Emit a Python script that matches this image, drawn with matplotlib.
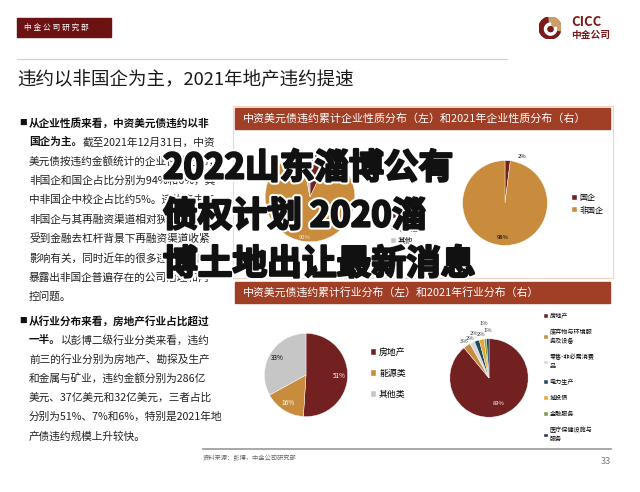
import numpy as np
import matplotlib
matplotlib.use("Agg")
import matplotlib.pyplot as plt
from matplotlib.patches import Rectangle, Wedge, Circle
import matplotlib.patheffects as pe

plt.rcParams['font.family'] = ['Noto Sans CJK SC', 'DejaVu Sans']

W, H = 640, 492

# ---- data ----
page_title = "违约以非国企为主，2021年地产违约提速"
header_top = "中资美元债违约累计企业性质分布（左）和2021年企业性质分布（右）"
header_bottom = "中资美元债违约累计行业分布（左）和2021年行业分布（右）"
overlay_lines = ["2022山东淄博公有", "债权计划 2020淄", "博土地出让最新消息"]

nature_labels_all = ["国企", "非国企", "其他"]
nature_values_all = [7, 90, 3]
nature_labels_2021 = ["国企", "非国企"]
nature_values_2021 = [2, 98]

industry_labels_all = ["房地产", "能源类", "其他类"]
industry_values_all = [51, 16, 33]
industry_labels_2021 = ["房地产", "废弃物与环境服\n务及设备", "零售-非必需消费\n品", "电力生产",
                        "城投债", "金融服务", "医疗保健设施与\n服务"]
industry_values_2021 = [89, 3, 2, 2, 2, 1, 1]

# (bold part, normal part)
para1 = [
    ("从企业性质来看，中资美元债违约以非", ""),
    ("国企为主。", "截至2021年12月31日，中资"),
    ("", "美元债按违约金额统计的企业性质分布，"),
    ("", "非国企和国企占比分别为94%和6%，其"),
    ("", "中非国企中校企占比约5%。违约集中于"),
    ("", "非国企与其再融资渠道相对狭窄，另外"),
    ("", "受到金融去杠杆背景下再融资渠道收紧"),
    ("", "影响有关，同时近年的很多违约案例也"),
    ("", "暴露出非国企普遍存在的公司治理和内"),
    ("", "控问题。"),
]
para2 = [
    ("从行业分布来看，房地产行业占比超过", ""),
    ("一半。", "以彭博二级行业分类来看，违约"),
    ("", "前三的行业分别为房地产、勘探及生产"),
    ("", "和金属与矿业，违约金额分别为286亿"),
    ("", "美元、37亿美元和32亿美元，三者占比"),
    ("", "分别为51%、7%和6%，特别是2021年地"),
    ("", "产债违约规模上升较快。"),
]

RED = "#722020"
GOLD = "#c98c3c"
GRAY = "#c6c6c6"
BAR = "#a03e26"

fig = plt.figure(figsize=(6.4, 4.92), dpi=100)
ax0 = fig.add_axes([0, 0, 1, 1])
ax0.set_xlim(0, W)
ax0.set_ylim(H, 0)
ax0.axis('off')

# header strip
ax0.add_patch(Rectangle((17, 18), 94, 19, color="#6d1212"))
ax0.text(24, 27.5, " ".join("中金公司研究部"), color="white", fontsize=5.6, va="center")
ax0.plot([17, 507], [59, 59], color="#d0d0d0", lw=0.8)
ax0.text(17, 80, page_title, fontsize=13.3, va="center", color="#1a1a1a")

# logo
lax = fig.add_axes([539 / W, 1 - 39 / H, 22 / W, 22 / H])
lax.set_xlim(-1, 1)
lax.set_ylim(-1, 1)
lax.axis('off')
lax.add_patch(Circle((0, 0), 1, color="#7a1a1a"))
lax.add_patch(Wedge((0, 0), 1, -15, 95, color="#c9a06a"))
lax.add_patch(Wedge((0.05, -0.1), 0.55, 90, 380, width=0.2, color="white"))
lax.add_patch(Circle((0.05, -0.1), 0.22, color="#7a1a1a"))
ax0.text(571, 22, "CICC", fontsize=9.5, fontweight="bold", color="#7a1a1a", va="center")
ax0.text(571, 35, "中金公司", fontsize=7, fontweight="bold", color="#7a1a1a", va="center")

# body text
def draw_para(lines, y0, step):
    ax0.text(19, y0, "■", fontsize=5.5, va="center", color="#111")
    for i, (b, n) in enumerate(lines):
        y = y0 + i * step
        t = ax0.text(29, y, b, fontsize=7.7, fontweight="bold", va="center", color="#111")
        if n:
            if b:
                ax0.annotate(n, xy=(1, 0.5), xycoords=t, va="center", fontsize=7.7, color="#222")
            else:
                ax0.text(29, y, n, fontsize=7.7, va="center", color="#222")

draw_para(para1, 123, 19.3)
draw_para(para2, 321, 19.2)

# chart headers
ax0.add_patch(Rectangle((233, 106), 380, 172, fill=False, ec="#f3d3c6", lw=0.8))
ax0.add_patch(Rectangle((235, 108), 375, 21, color=BAR))
ax0.text(243, 118.5, header_top, color="white", fontsize=7.9, va="center")
ax0.add_patch(Rectangle((235, 282), 375, 21, color=BAR))
ax0.text(243, 292.5, header_bottom, color="white", fontsize=7.85, va="center")

# footer
ax0.plot([203, 611], [449, 449], color="#999999", lw=1.2)
ax0.text(203, 458, "资料来源：彭博，中金公司研究部", fontsize=4.5, color="#666", va="center")
ax0.text(611, 461, "33", fontsize=6.5, color="#777", va="center", ha="right")


def pie_ax(cx, cy, r):
    a = fig.add_axes([(cx - r) / W, 1 - (cy + r) / H, 2 * r / W, 2 * r / H])
    return a


def legend(a, wedges, labels, x, y, fs, spacing):
    a.legend(wedges, labels, loc="upper left", bbox_to_anchor=(x / W, 1 - y / H),
             bbox_transform=fig.transFigure, frameon=False, fontsize=fs,
             handlelength=0.6, handleheight=0.6, handletextpad=0.3,
             labelspacing=spacing, borderpad=0, borderaxespad=0)


# top-left pie
a1 = pie_ax(310, 197, 56)
w1, t1, p1 = a1.pie(nature_values_all, colors=[RED, GOLD, GRAY], startangle=90,
                    counterclock=False, radius=1, autopct="%d%%", pctdistance=0.8,
                    textprops={"fontsize": 4.2},
                    wedgeprops={"edgecolor": "white", "linewidth": 0.3})
p1[0].set_color("white")
p1[1].set_color("#f4e4cc")
p1[1].set_position((p1[1].get_position()[0] * 1.15, p1[1].get_position()[1] * 1.15))
legend(a1, w1, nature_labels_all, 391, 212, 5.5, 0.6)

# top-right pie
a2 = pie_ax(505, 203, 53)
w2, t2, p2 = a2.pie(nature_values_2021, colors=[RED, GOLD], startangle=90,
                    counterclock=False, radius=1, autopct="%d%%", pctdistance=0.82,
                    textprops={"fontsize": 4.2},
                    wedgeprops={"edgecolor": "white", "linewidth": 0.3})
th = np.deg2rad((w2[0].theta1 + w2[0].theta2) / 2)
p2[0].set_visible(False)
a2.annotate(p2[0].get_text(), xy=(np.cos(th), np.sin(th)), xytext=(0.3, 1.1),
            fontsize=4.2, va="center",
            arrowprops={"arrowstyle": "-", "color": "#666", "lw": 0.4,
                        "connectionstyle": "arc3,rad=-0.3"})
legend(a2, w2, nature_labels_2021, 572, 193, 5.8, 0.45)

# bottom-left pie
a3 = pie_ax(306, 375, 52)
w3, t3, p3 = a3.pie(industry_values_all, colors=[RED, GOLD, GRAY], startangle=90,
                    counterclock=False, radius=1, autopct="%d%%", pctdistance=0.8,
                    textprops={"fontsize": 4.6},
                    wedgeprops={"edgecolor": "white", "linewidth": 0.3})
p3[0].set_color("white")
p3[1].set_color("white")
legend(a3, w3, industry_labels_all, 371, 348, 6.4, 1.35)

# bottom-right pie
a4 = pie_ax(489, 378, 49)
cols4 = [RED, GOLD, "#d3d7db", "#1f4b5b", "#e6a630", "#7d9c45", "#243454"]
w4, t4 = a4.pie(industry_values_2021, colors=cols4, startangle=90, counterclock=False,
                radius=1, wedgeprops={"edgecolor": "white", "linewidth": 0.3})
dist = [0.7, 1.14, 1.12, 1.2, 1.12, 1.4, 1.2]
for i, (w, v) in enumerate(zip(w4, industry_values_2021)):
    ang = np.deg2rad((w.theta1 + w.theta2) / 2)
    a4.text(dist[i] * np.cos(ang), dist[i] * np.sin(ang), f"{v}%", fontsize=4.2,
            ha="center", va="center", color="white" if i == 0 else "#333")
a4.legend(w4, industry_labels_2021, loc="upper left", bbox_to_anchor=(544 / W, 1 - 312 / H),
          bbox_transform=fig.transFigure, frameon=False, fontsize=4.4,
          handlelength=0.6, handleheight=0.6, handletextpad=0.3,
          labelspacing=1.3, borderpad=0, borderaxespad=0)

# overlay title
for i, line in enumerate(overlay_lines):
    fig.text(163 / W, 1 - (168 + 48 * i) / H, line, fontsize=25, fontweight="bold",
             color="#111", va="center", ha="left",
             path_effects=[pe.withStroke(linewidth=4.5, foreground="white"),
                           pe.withStroke(linewidth=1.6, foreground="#111")])

fig.savefig("out.png", dpi=100)
